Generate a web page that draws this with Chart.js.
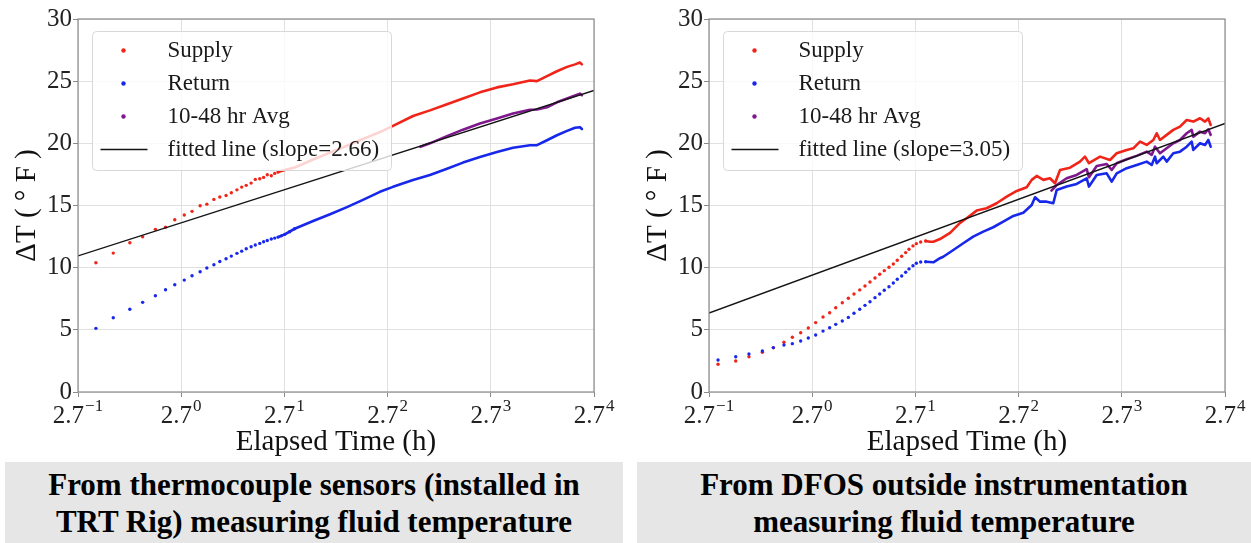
<!DOCTYPE html>
<html>
<head>
<meta charset="utf-8">
<title>Fluid ΔT vs elapsed time</title>
<script src="https://cdn.jsdelivr.net/npm/chart.js@4.4.1/dist/chart.umd.min.js"></script>
<style>
  html, body { margin: 0; padding: 0; background: #fff; }
  #page { position: relative; width: 1251px; height: 543px; overflow: hidden; background: #fff; }
  canvas { position: absolute; top: 0; }
  #leftChart { left: 0; }
  #rightChart { left: 631px; }
  .caption {
    position: absolute; top: 462px; height: 81px; box-sizing: border-box; padding-top: 4px;
    background: #e6e6e6; color: #000; text-align: center;
    font: bold 31px/37px 'Liberation Serif', 'Times New Roman', serif;
  }
  #leftCaption { left: 5px; width: 618px; }
  #rightCaption { left: 637px; width: 614px; }
</style>
</head>
<body>
<div id="page">
  <canvas id="leftChart" width="620" height="460"></canvas>
  <canvas id="rightChart" width="620" height="460"></canvas>
  <div class="caption" id="leftCaption">From thermocouple sensors (installed in<br>TRT Rig) measuring fluid temperature</div>
  <div class="caption" id="rightCaption">From DFOS outside instrumentation<br>measuring fluid temperature</div>
</div>
<script>
// x axis is logarithmic with base 2.7, ticks at 2.7^-1 ... 2.7^4
const LOG_BASE = 2.7;
const xTickExponents = [-1, 0, 1, 2, 3, 4];

// ---- thermocouple (left panel) ----
// sparse early readings, elapsed hours
const leftDotHours = [0.44, 0.52, 0.61, 0.69, 0.78, 0.86, 0.94, 1.03, 1.11, 1.20, 1.28, 1.37, 1.45, 1.54, 1.62,
  1.71, 1.79, 1.87, 1.96, 2.04, 2.13, 2.21, 2.29, 2.38, 2.46, 2.54, 2.62, 2.71, 2.84, 2.98];
const leftSupplyDots = [10.39, 11.17, 12.0, 12.48, 13.08, 13.26, 13.85, 14.23, 14.53, 14.98, 15.11, 15.49, 15.68,
  15.81, 16.02, 16.26, 16.48, 16.62, 16.8, 17.1, 17.15, 17.26, 17.47, 17.39, 17.58, 17.69];
const leftReturnDots = [5.12, 5.97, 6.65, 7.21, 7.74, 8.22, 8.63, 9.0, 9.35, 9.67, 9.97, 10.23, 10.5, 10.72, 10.93,
  11.15, 11.33, 11.52, 11.68, 11.82, 11.95, 12.08, 12.19, 12.3, 12.38, 12.46, 12.56, 12.68, 12.89, 13.13];
// dense later readings
const leftTraceHours = [2.54, 2.71, 2.98, 3.56, 4.19, 4.93, 5.75, 6.77, 7.68, 9.31, 10.96, 12.91, 15.06, 17.73,
  20.88, 24.37, 28.7, 30.7, 33.8, 37.2, 41.0, 44.3, 46.4, 47.3];
const leftSupplyTrace = [17.69, 17.85, 18.05, 18.7, 19.25, 19.8, 20.35, 20.9, 21.4, 22.2, 22.65, 23.15, 23.6, 24.1,
  24.5, 24.75, 25.05, 25.0, 25.4, 25.8, 26.15, 26.35, 26.5, 26.35];
const leftReturnTrace = [12.46, 12.68, 13.13, 13.75, 14.3, 14.87, 15.45, 16.1, 16.5, 17.05, 17.45, 17.95, 18.45,
  18.9, 19.3, 19.65, 19.85, 19.85, 20.25, 20.65, 21.0, 21.25, 21.3, 21.15];
const leftAvgHours = [10.0, 10.96, 12.91, 15.06, 17.73, 20.88, 24.37, 28.7, 30.7, 33.8, 37.2, 41.0, 44.3, 46.4, 47.3];
const leftAvg = [19.72, 20.0, 20.58, 21.1, 21.6, 22.0, 22.4, 22.7, 22.72, 22.9, 23.3, 23.6, 23.85, 24.0, 23.87];

// ---- DFOS (right panel) ----
const rightDotHours = [0.404, 0.479, 0.544, 0.619, 0.688, 0.762, 0.826, 0.895, 0.963, 1.034, 1.110, 1.183, 1.254,
  1.336, 1.416, 1.495, 1.580, 1.662, 1.744, 1.830, 1.915, 2.001, 2.094, 2.183, 2.268, 2.366, 2.459, 2.539, 2.638,
  2.724, 2.841, 2.981];
const rightSupplyDots = [2.23, 2.49, 2.84, 3.2, 3.55, 4.0, 4.4, 4.77, 5.15, 5.58, 6.03, 6.38, 6.78, 7.18, 7.54, 7.88,
  8.21, 8.53, 8.85, 9.17, 9.47, 9.76, 10.03, 10.3, 10.6, 10.92, 11.21, 11.48, 11.75, 11.93, 12.07, 12.15];
const rightReturnDots = [2.57, 2.84, 3.06, 3.3, 3.57, 3.78, 3.89, 4.1, 4.34, 4.59, 4.9, 5.17, 5.44, 5.71, 6.0, 6.33,
  6.65, 6.97, 7.26, 7.59, 7.88, 8.18, 8.47, 8.77, 9.07, 9.33, 9.63, 9.9, 10.16, 10.35, 10.46, 10.48];
const rightSupplyHours = [2.98, 3.11, 3.21, 3.42, 3.77, 4.15, 4.42, 4.87, 5.36, 5.90, 6.50, 7.16, 7.88, 8.27, 8.68,
  9.25, 9.86, 10.35, 10.86, 11.96, 13.16, 13.81, 14.35, 15.96, 17.57, 18.74, 20.63, 21.98, 23.45, 25.01, 26.66,
  27.54, 28.43, 30.32, 32.31, 34.46, 36.76, 39.17, 41.78, 43.85, 45.26, 46.3];
const rightSupplyTrace = [12.15, 12.09, 12.09, 12.3, 12.8, 13.6, 13.97, 14.59, 14.78, 15.18, 15.71, 16.17, 16.47,
  17.06, 17.38, 17.06, 17.19, 16.79, 17.86, 18.04, 18.53, 18.93, 18.4, 18.93, 18.66, 19.2, 19.47, 19.6, 20.14,
  19.87, 20.27, 20.81, 20.27, 20.68, 21.08, 21.34, 21.88, 21.75, 22.02, 21.75, 22.0, 21.48];
const rightReturnHours = [2.98, 3.21, 3.42, 3.53, 3.89, 4.28, 4.71, 5.19, 5.71, 6.29, 6.93, 7.63, 8.27, 8.54, 8.96,
  9.55, 10.18, 10.52, 11.58, 12.75, 14.04, 14.35, 15.46, 17.02, 17.86, 18.74, 20.63, 22.71, 25.01, 26.25, 27.09,
  27.54, 29.34, 30.32, 32.31, 34.46, 36.76, 38.56, 39.17, 41.78, 43.85, 45.26, 46.3];
const rightReturnTrace = [10.48, 10.43, 10.76, 10.88, 11.42, 11.96, 12.49, 12.9, 13.25, 13.7, 14.16, 14.42, 15.04,
  15.66, 15.31, 15.31, 15.18, 16.25, 16.52, 16.73, 17.19, 16.52, 17.46, 17.59, 16.92, 17.59, 18.0, 18.26, 18.53,
  18.26, 18.93, 18.4, 18.93, 18.53, 19.2, 19.33, 19.73, 20.14, 19.47, 20.01, 19.87, 20.27, 19.73];
const rightAvgHours = [10.0, 10.52, 11.58, 12.75, 14.04, 14.35, 15.46, 17.02, 17.86, 18.74, 20.63, 22.71, 25.01,
  26.25, 27.09, 28.43, 30.32, 32.31, 34.46, 36.76, 38.56, 39.17, 41.78, 43.85, 45.26, 46.3];
const rightAvg = [16.2, 16.65, 17.19, 17.46, 17.92, 17.27, 18.18, 18.34, 17.86, 18.4, 18.72, 18.99, 19.33, 19.07,
  19.73, 19.2, 19.6, 20.0, 20.27, 20.81, 21.08, 20.54, 20.94, 20.81, 21.13, 20.68];

// fitted lines: ΔT = intercept + slope * log_2.7(t)
const fitSlopes = [2.66, 3.05];
const fitIntercepts = [13.61, 9.4];

const SERIF = "'Liberation Serif', 'Times New Roman', serif";
const SUPPLY_COLOR = 'rgb(240, 36, 24)';
const RETURN_COLOR = 'rgb(24, 40, 235)';
const AVG_COLOR = 'rgb(126, 24, 140)';
const FIT_COLOR = '#141414';
const GRID_COLOR = '#e0e0e0';
const SPINE_COLOR = '#8a8a8a';

function points(hours, values) {
  return values.map((y, i) => ({ x: hours[i], y }));
}

function dots(label, data, color, order) {
  return {
    label, data, order, showLine: false,
    pointRadius: 1.7, pointHoverRadius: 1.7, pointBorderWidth: 0,
    backgroundColor: color, borderColor: color
  };
}

function trace(label, data, color, order) {
  return {
    label, data, order, showLine: true,
    borderWidth: 2.6, pointRadius: 0, pointHoverRadius: 0,
    borderColor: color, backgroundColor: color,
    borderJoinStyle: 'round', borderCapStyle: 'round'
  };
}

function fitLine(slope, intercept) {
  const lo = xTickExponents[0];
  const hi = xTickExponents[xTickExponents.length - 1];
  return {
    label: 'fitted line (slope=' + slope.toFixed(2) + ')',
    data: [
      { x: Math.pow(LOG_BASE, lo), y: intercept + slope * lo },
      { x: Math.pow(LOG_BASE, hi), y: intercept + slope * hi }
    ],
    order: 1, showLine: true, borderWidth: 1.3, borderColor: FIT_COLOR,
    pointRadius: 0, pointHoverRadius: 0
  };
}

// matplotlib-like legend box sitting inside the plot, drawn over the data
const legendBox = {
  id: 'legendBox',
  afterDatasetsDraw(chart, args, opts) {
    const { ctx, chartArea: a } = chart;
    const x = a.left + 14.5, y = a.top + 12.5, w = 299, h = 139;
    ctx.save();
    ctx.beginPath();
    if (ctx.roundRect) ctx.roundRect(x, y, w, h, 4); else ctx.rect(x, y, w, h);
    ctx.fillStyle = 'rgba(255,255,255,0.8)';
    ctx.fill();
    ctx.strokeStyle = '#d8d8d8';
    ctx.lineWidth = 1;
    ctx.stroke();
    ctx.font = '23px ' + SERIF;
    ctx.textBaseline = 'middle';
    opts.entries.forEach((e, i) => {
      const cy = y + 19 + i * 33;
      if (e.kind === 'line') {
        ctx.strokeStyle = e.color;
        ctx.lineWidth = 1.3;
        ctx.beginPath();
        ctx.moveTo(x + 8, cy);
        ctx.lineTo(x + 55, cy);
        ctx.stroke();
      } else {
        ctx.fillStyle = e.color;
        ctx.beginPath();
        ctx.arc(x + 31, cy, 2.2, 0, Math.PI * 2);
        ctx.fill();
      }
      ctx.fillStyle = '#1a1a1a';
      ctx.fillText(e.label, x + 75, cy);
    });
    ctx.restore();
  }
};

// frame on all four sides and "2.7^n" tick labels with raised exponents
const frameAndTicks = {
  id: 'frameAndTicks',
  afterDraw(chart) {
    const { ctx, chartArea: a } = chart;
    const xs = chart.scales.x;
    ctx.save();
    ctx.strokeStyle = SPINE_COLOR;
    ctx.lineWidth = 1.2;
    ctx.strokeRect(a.left, a.top, a.right - a.left, a.bottom - a.top);
    ctx.fillStyle = '#222';
    ctx.textBaseline = 'alphabetic';
    ctx.textAlign = 'left';
    xTickExponents.forEach(n => {
      const px = xs.getPixelForValue(Math.pow(LOG_BASE, n));
      const base = String(LOG_BASE);
      const exp = n < 0 ? '\u2212' + Math.abs(n) : String(n);
      ctx.font = '25px ' + SERIF;
      const wb = ctx.measureText(base).width;
      ctx.font = '17px ' + SERIF;
      const we = ctx.measureText(exp).width;
      const start = px - (wb + 1 + we) / 2;
      ctx.font = '25px ' + SERIF;
      ctx.fillText(base, start, a.bottom + 31);
      ctx.font = '17px ' + SERIF;
      ctx.fillText(exp, start + wb + 1, a.bottom + 19);
    });
    ctx.restore();
  }
};

function makePanel(canvasId, sets, slope, intercept) {
  const datasets = [
    dots('Supply', points(sets.dotHours, sets.supplyDots), SUPPLY_COLOR, 4),
    trace('Supply', points(sets.supplyHours, sets.supplyTrace), SUPPLY_COLOR, 4),
    dots('Return', points(sets.dotHours, sets.returnDots), RETURN_COLOR, 3),
    trace('Return', points(sets.returnHours, sets.returnTrace), RETURN_COLOR, 3),
    trace('10-48 hr Avg', points(sets.avgHours, sets.avg), AVG_COLOR, 2),
    fitLine(slope, intercept)
  ];
  const entries = [
    { label: 'Supply', color: SUPPLY_COLOR, kind: 'dot' },
    { label: 'Return', color: RETURN_COLOR, kind: 'dot' },
    { label: '10-48 hr Avg', color: AVG_COLOR, kind: 'dot' },
    { label: 'fitted line (slope=' + slope.toFixed(2) + ')', color: FIT_COLOR, kind: 'line' }
  ];
  return new Chart(document.getElementById(canvasId), {
    type: 'scatter',
    data: { datasets },
    options: {
      responsive: false,
      animation: false,
      devicePixelRatio: 1,
      layout: { padding: { top: 19, right: 26, left: 0, bottom: 0 } },
      plugins: {
        legend: { display: false },
        tooltip: { enabled: false },
        legendBox: { entries }
      },
      scales: {
        x: {
          type: 'logarithmic',
          min: Math.pow(LOG_BASE, xTickExponents[0]),
          max: Math.pow(LOG_BASE, xTickExponents[xTickExponents.length - 1]),
          afterBuildTicks: s => { s.ticks = xTickExponents.map(n => ({ value: Math.pow(LOG_BASE, n) })); },
          afterFit: s => { s.height = 68; },
          ticks: { display: false },
          grid: { color: GRID_COLOR, lineWidth: 1, drawTicks: true, tickLength: 5, tickColor: SPINE_COLOR },
          border: { display: false },
          title: {
            display: true, text: 'Elapsed Time (h)', color: '#111',
            font: { family: SERIF, size: 29 }, padding: { top: 0, bottom: 0 }
          }
        },
        y: {
          min: 0, max: 30,
          afterFit: s => { s.width = 78; },
          ticks: { stepSize: 5, padding: 1, color: '#222', font: { family: SERIF, size: 25 } },
          grid: { color: GRID_COLOR, lineWidth: 1, drawTicks: true, tickLength: 5, tickColor: SPINE_COLOR },
          border: { display: false },
          title: {
            display: true, text: 'ΔT ( ° F )', color: '#111',
            font: { family: SERIF, size: 29 }, padding: { top: 10, bottom: 0 }
          }
        }
      }
    },
    plugins: [legendBox, frameAndTicks]
  });
}

makePanel('leftChart', {
  dotHours: leftDotHours, supplyDots: leftSupplyDots, returnDots: leftReturnDots,
  supplyHours: leftTraceHours, supplyTrace: leftSupplyTrace,
  returnHours: leftTraceHours, returnTrace: leftReturnTrace,
  avgHours: leftAvgHours, avg: leftAvg
}, fitSlopes[0], fitIntercepts[0]);

makePanel('rightChart', {
  dotHours: rightDotHours, supplyDots: rightSupplyDots, returnDots: rightReturnDots,
  supplyHours: rightSupplyHours, supplyTrace: rightSupplyTrace,
  returnHours: rightReturnHours, returnTrace: rightReturnTrace,
  avgHours: rightAvgHours, avg: rightAvg
}, fitSlopes[1], fitIntercepts[1]);
</script>
</body>
</html>
